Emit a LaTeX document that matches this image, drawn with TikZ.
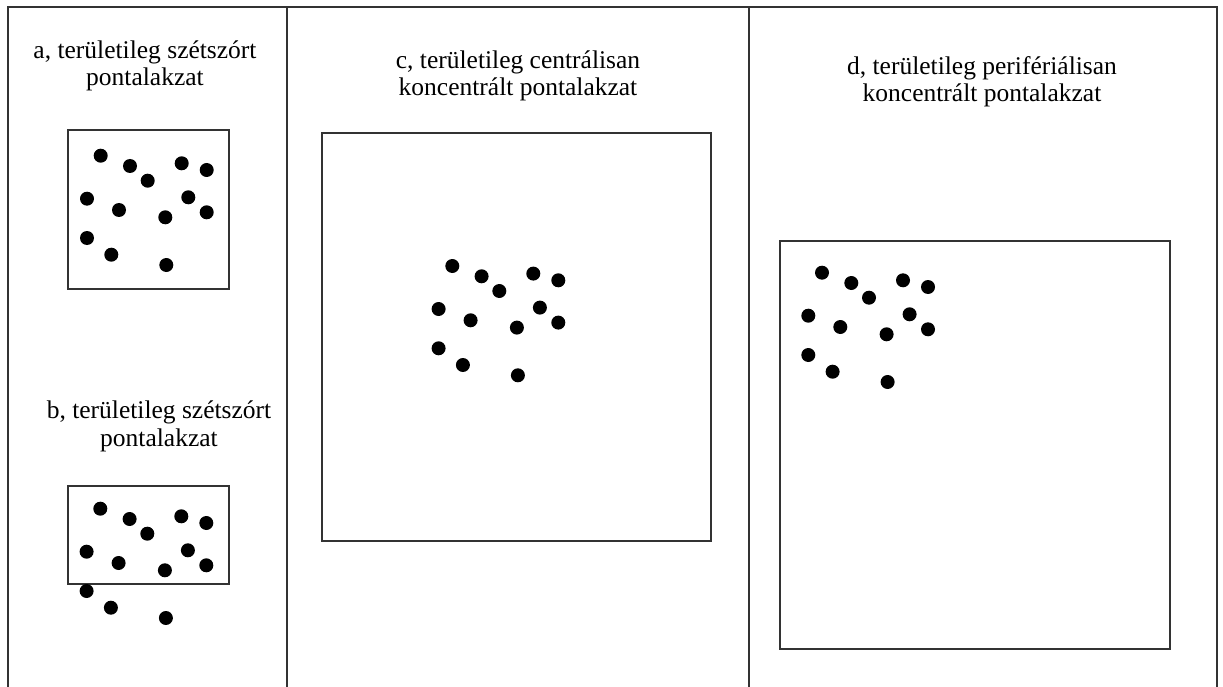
\documentclass[tikz,border=0pt]{standalone}
\usepackage{fontspec}
\setmainfont{Liberation Serif}
\begin{document}
\begin{tikzpicture}[x=1pt,y=-1pt,
  frame/.style={draw=black!80,line width=1.1pt},
  areabox/.style={draw=black!80,line width=1.1pt},
  lbl/.style={inner sep=0pt,anchor=base,align=center,font=\fontsize{25.5}{27.5}\selectfont},
  dot/.style={fill=black}]
\useasboundingbox (0,0) rectangle (1223,687);
% outer frame and column dividers
\draw[frame] (8,687) -- (8,7) -- (1217,7) -- (1217,687);
\draw[frame] (287,7) -- (287,687);
\draw[frame] (749,7) -- (749,687);
% area boxes
\draw[areabox] (68,130) rectangle (229,289);
\draw[areabox] (68,486) rectangle (229,584);
\draw[areabox] (322,133) rectangle (711,541);
\draw[areabox] (780,241) rectangle (1170,649);
% labels (base anchor = baseline of the last line)
\node[lbl] (la) at (145,86) {a, területileg szétszórt\\pontalakzat};
\node[lbl] (lb) at (159,446) {b, területileg szétszórt\\pontalakzat};
\node[lbl] (lc) at (518,96) {c, területileg centrálisan\\koncentrált pontalakzat};
\node[lbl] (ld) at (982,102) {d, területileg perifériálisan\\koncentrált pontalakzat};
% dot patterns
\foreach \ox/\oy in {100.7/155.7, 100.3/508.7, 452.3/266, 822/272.7}{
  \foreach \dx/\dy in {0/0, 29.3/10.3, 47/25, 81/7.6, 106/14.3, -13.7/43, 18.3/54.3, 64.6/61.6, 87.6/41.6, 106/56.6, -13.7/82.3, 10.6/99, 65.6/109.3}{
    \fill[dot] (\ox+\dx,\oy+\dy) circle (7);
  }
}
\end{tikzpicture}
\end{document}
